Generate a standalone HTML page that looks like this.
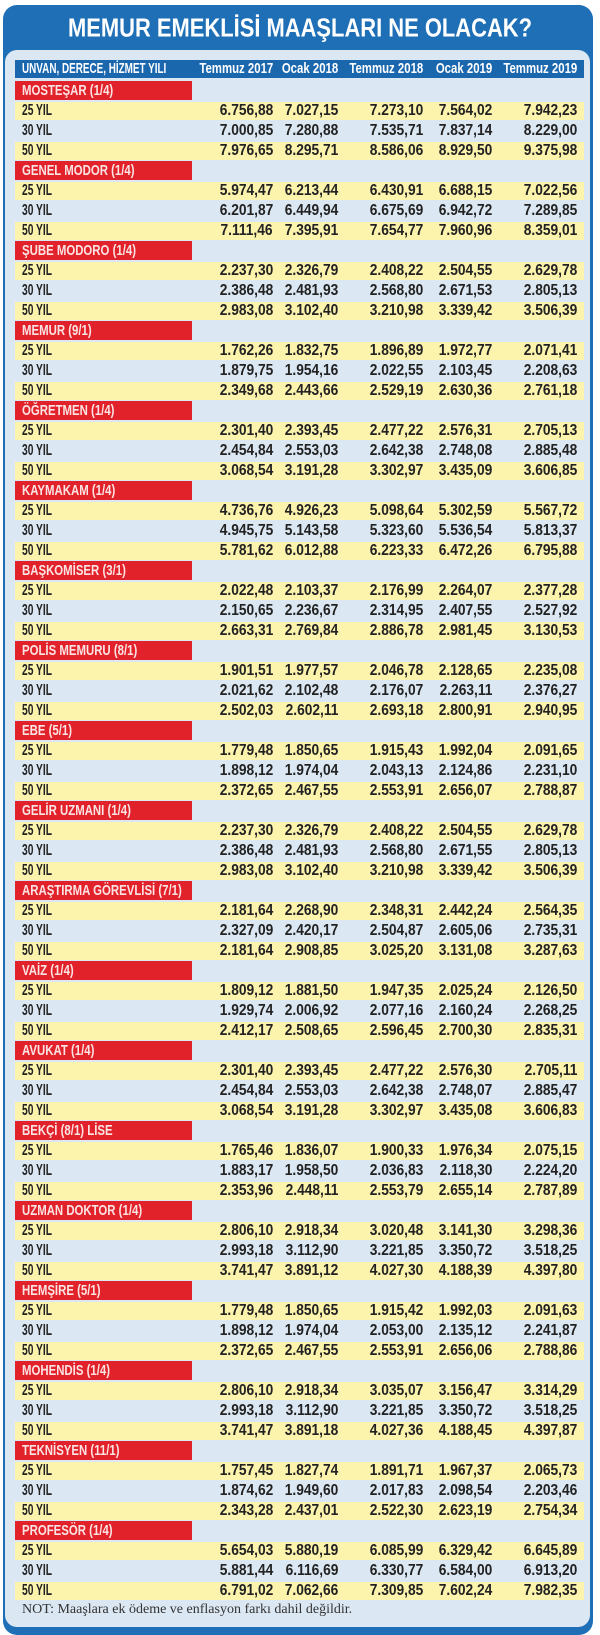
<!DOCTYPE html>
<html><head><meta charset="utf-8">
<style>
*{margin:0;padding:0;box-sizing:border-box}
body{width:600px;height:1631px;background:#fff;position:relative;overflow:hidden;font-family:"Liberation Sans",sans-serif}
#outer{position:absolute;left:3px;top:5px;width:590px;height:1630px;background:#1f6fb6;border-radius:14px}
#panel{position:absolute;left:5px;top:50px;width:585px;height:1577px;background:#dbe7f3;border-radius:12px}
#title{position:absolute;left:0;top:0}
#hdr{position:absolute;left:15px;top:60px;width:569px;height:18px;background:#1b67ae}
#rows{position:absolute;left:15px;top:81px;width:569px}
.r{position:relative;height:20px}
.y::before{content:"";position:absolute;left:0;top:1px;width:569px;height:18px;background:#fcf3ad}
.g{position:relative;height:20px}
.g::before{content:"";position:absolute;left:0;top:0;width:177px;height:19px;background:#e2222a}
.g b{position:absolute;left:7px;top:0;font-size:15px;color:#fbe3e3;transform:scaleX(.76);transform-origin:left;white-space:nowrap;line-height:19px}
.r b{position:absolute;left:7px;top:1px;font-size:16px;color:#222;transform:scaleX(.64);transform-origin:left;line-height:18px}
.r i,#hdr i{position:absolute;font-style:normal;font-weight:bold;font-size:16px;color:#222;line-height:18px;top:1px;transform:scaleX(.86);transform-origin:right;white-space:nowrap}
.r i:nth-of-type(1),#hdr i:nth-of-type(1){right:311px}
.r i:nth-of-type(2),#hdr i:nth-of-type(2){right:246px}
.r i:nth-of-type(3),#hdr i:nth-of-type(3){right:161px}
.r i:nth-of-type(4),#hdr i:nth-of-type(4){right:92px}
.r i:nth-of-type(5),#hdr i:nth-of-type(5){right:7px}
#hdr i{color:#fff;font-size:15px;top:0;transform:scaleX(.76)}
#hdr b{position:absolute;left:7px;top:0;line-height:18px;font-size:15px;color:#fff;transform:scaleX(.66);transform-origin:left;white-space:nowrap}
#not{position:absolute;left:22px;top:1602px;font-family:"Liberation Serif",serif;font-size:14px;color:#333}
</style></head><body>
<div id="outer"></div>
<svg id="title" width="600" height="50"><text x="68" y="36.5" textLength="464" lengthAdjust="spacingAndGlyphs" font-family="Liberation Sans, sans-serif" font-weight="bold" font-size="26" fill="#fff">MEMUR EMEKLİSİ MAAŞLARI NE OLACAK?</text></svg>
<div id="panel"></div>
<div id="hdr"><b>UNVAN, DERECE, HİZMET YILI</b><i>Temmuz 2017</i><i>Ocak 2018</i><i>Temmuz 2018</i><i>Ocak 2019</i><i>Temmuz 2019</i></div>
<div id="rows">
<div class="g"><b>MOSTEŞAR (1/4)</b></div>
<div class="r y"><b>25 YIL</b><i>6.756,88</i><i>7.027,15</i><i>7.273,10</i><i>7.564,02</i><i>7.942,23</i></div>
<div class="r"><b>30 YIL</b><i>7.000,85</i><i>7.280,88</i><i>7.535,71</i><i>7.837,14</i><i>8.229,00</i></div>
<div class="r y"><b>50 YIL</b><i>7.976,65</i><i>8.295,71</i><i>8.586,06</i><i>8.929,50</i><i>9.375,98</i></div>
<div class="g"><b>GENEL MODOR (1/4)</b></div>
<div class="r y"><b>25 YIL</b><i>5.974,47</i><i>6.213,44</i><i>6.430,91</i><i>6.688,15</i><i>7.022,56</i></div>
<div class="r"><b>30 YIL</b><i>6.201,87</i><i>6.449,94</i><i>6.675,69</i><i>6.942,72</i><i>7.289,85</i></div>
<div class="r y"><b>50 YIL</b><i>7.111,46</i><i>7.395,91</i><i>7.654,77</i><i>7.960,96</i><i>8.359,01</i></div>
<div class="g"><b>ŞUBE MODORO (1/4)</b></div>
<div class="r y"><b>25 YIL</b><i>2.237,30</i><i>2.326,79</i><i>2.408,22</i><i>2.504,55</i><i>2.629,78</i></div>
<div class="r"><b>30 YIL</b><i>2.386,48</i><i>2.481,93</i><i>2.568,80</i><i>2.671,53</i><i>2.805,13</i></div>
<div class="r y"><b>50 YIL</b><i>2.983,08</i><i>3.102,40</i><i>3.210,98</i><i>3.339,42</i><i>3.506,39</i></div>
<div class="g"><b>MEMUR (9/1)</b></div>
<div class="r y"><b>25 YIL</b><i>1.762,26</i><i>1.832,75</i><i>1.896,89</i><i>1.972,77</i><i>2.071,41</i></div>
<div class="r"><b>30 YIL</b><i>1.879,75</i><i>1.954,16</i><i>2.022,55</i><i>2.103,45</i><i>2.208,63</i></div>
<div class="r y"><b>50 YIL</b><i>2.349,68</i><i>2.443,66</i><i>2.529,19</i><i>2.630,36</i><i>2.761,18</i></div>
<div class="g"><b>ÖĞRETMEN (1/4)</b></div>
<div class="r y"><b>25 YIL</b><i>2.301,40</i><i>2.393,45</i><i>2.477,22</i><i>2.576,31</i><i>2.705,13</i></div>
<div class="r"><b>30 YIL</b><i>2.454,84</i><i>2.553,03</i><i>2.642,38</i><i>2.748,08</i><i>2.885,48</i></div>
<div class="r y"><b>50 YIL</b><i>3.068,54</i><i>3.191,28</i><i>3.302,97</i><i>3.435,09</i><i>3.606,85</i></div>
<div class="g"><b>KAYMAKAM (1/4)</b></div>
<div class="r y"><b>25 YIL</b><i>4.736,76</i><i>4.926,23</i><i>5.098,64</i><i>5.302,59</i><i>5.567,72</i></div>
<div class="r"><b>30 YIL</b><i>4.945,75</i><i>5.143,58</i><i>5.323,60</i><i>5.536,54</i><i>5.813,37</i></div>
<div class="r y"><b>50 YIL</b><i>5.781,62</i><i>6.012,88</i><i>6.223,33</i><i>6.472,26</i><i>6.795,88</i></div>
<div class="g"><b>BAŞKOMİSER (3/1)</b></div>
<div class="r y"><b>25 YIL</b><i>2.022,48</i><i>2.103,37</i><i>2.176,99</i><i>2.264,07</i><i>2.377,28</i></div>
<div class="r"><b>30 YIL</b><i>2.150,65</i><i>2.236,67</i><i>2.314,95</i><i>2.407,55</i><i>2.527,92</i></div>
<div class="r y"><b>50 YIL</b><i>2.663,31</i><i>2.769,84</i><i>2.886,78</i><i>2.981,45</i><i>3.130,53</i></div>
<div class="g"><b>POLİS MEMURU (8/1)</b></div>
<div class="r y"><b>25 YIL</b><i>1.901,51</i><i>1.977,57</i><i>2.046,78</i><i>2.128,65</i><i>2.235,08</i></div>
<div class="r"><b>30 YIL</b><i>2.021,62</i><i>2.102,48</i><i>2.176,07</i><i>2.263,11</i><i>2.376,27</i></div>
<div class="r y"><b>50 YIL</b><i>2.502,03</i><i>2.602,11</i><i>2.693,18</i><i>2.800,91</i><i>2.940,95</i></div>
<div class="g"><b>EBE (5/1)</b></div>
<div class="r y"><b>25 YIL</b><i>1.779,48</i><i>1.850,65</i><i>1.915,43</i><i>1.992,04</i><i>2.091,65</i></div>
<div class="r"><b>30 YIL</b><i>1.898,12</i><i>1.974,04</i><i>2.043,13</i><i>2.124,86</i><i>2.231,10</i></div>
<div class="r y"><b>50 YIL</b><i>2.372,65</i><i>2.467,55</i><i>2.553,91</i><i>2.656,07</i><i>2.788,87</i></div>
<div class="g"><b>GELİR UZMANI (1/4)</b></div>
<div class="r y"><b>25 YIL</b><i>2.237,30</i><i>2.326,79</i><i>2.408,22</i><i>2.504,55</i><i>2.629,78</i></div>
<div class="r"><b>30 YIL</b><i>2.386,48</i><i>2.481,93</i><i>2.568,80</i><i>2.671,55</i><i>2.805,13</i></div>
<div class="r y"><b>50 YIL</b><i>2.983,08</i><i>3.102,40</i><i>3.210,98</i><i>3.339,42</i><i>3.506,39</i></div>
<div class="g"><b>ARAŞTIRMA GÖREVLİSİ (7/1)</b></div>
<div class="r y"><b>25 YIL</b><i>2.181,64</i><i>2.268,90</i><i>2.348,31</i><i>2.442,24</i><i>2.564,35</i></div>
<div class="r"><b>30 YIL</b><i>2.327,09</i><i>2.420,17</i><i>2.504,87</i><i>2.605,06</i><i>2.735,31</i></div>
<div class="r y"><b>50 YIL</b><i>2.181,64</i><i>2.908,85</i><i>3.025,20</i><i>3.131,08</i><i>3.287,63</i></div>
<div class="g"><b>VAİZ (1/4)</b></div>
<div class="r y"><b>25 YIL</b><i>1.809,12</i><i>1.881,50</i><i>1.947,35</i><i>2.025,24</i><i>2.126,50</i></div>
<div class="r"><b>30 YIL</b><i>1.929,74</i><i>2.006,92</i><i>2.077,16</i><i>2.160,24</i><i>2.268,25</i></div>
<div class="r y"><b>50 YIL</b><i>2.412,17</i><i>2.508,65</i><i>2.596,45</i><i>2.700,30</i><i>2.835,31</i></div>
<div class="g"><b>AVUKAT (1/4)</b></div>
<div class="r y"><b>25 YIL</b><i>2.301,40</i><i>2.393,45</i><i>2.477,22</i><i>2.576,30</i><i>2.705,11</i></div>
<div class="r"><b>30 YIL</b><i>2.454,84</i><i>2.553,03</i><i>2.642,38</i><i>2.748,07</i><i>2.885,47</i></div>
<div class="r y"><b>50 YIL</b><i>3.068,54</i><i>3.191,28</i><i>3.302,97</i><i>3.435,08</i><i>3.606,83</i></div>
<div class="g"><b>BEKÇİ (8/1) LİSE</b></div>
<div class="r y"><b>25 YIL</b><i>1.765,46</i><i>1.836,07</i><i>1.900,33</i><i>1.976,34</i><i>2.075,15</i></div>
<div class="r"><b>30 YIL</b><i>1.883,17</i><i>1.958,50</i><i>2.036,83</i><i>2.118,30</i><i>2.224,20</i></div>
<div class="r y"><b>50 YIL</b><i>2.353,96</i><i>2.448,11</i><i>2.553,79</i><i>2.655,14</i><i>2.787,89</i></div>
<div class="g"><b>UZMAN DOKTOR (1/4)</b></div>
<div class="r y"><b>25 YIL</b><i>2.806,10</i><i>2.918,34</i><i>3.020,48</i><i>3.141,30</i><i>3.298,36</i></div>
<div class="r"><b>30 YIL</b><i>2.993,18</i><i>3.112,90</i><i>3.221,85</i><i>3.350,72</i><i>3.518,25</i></div>
<div class="r y"><b>50 YIL</b><i>3.741,47</i><i>3.891,12</i><i>4.027,30</i><i>4.188,39</i><i>4.397,80</i></div>
<div class="g"><b>HEMŞİRE (5/1)</b></div>
<div class="r y"><b>25 YIL</b><i>1.779,48</i><i>1.850,65</i><i>1.915,42</i><i>1.992,03</i><i>2.091,63</i></div>
<div class="r"><b>30 YIL</b><i>1.898,12</i><i>1.974,04</i><i>2.053,00</i><i>2.135,12</i><i>2.241,87</i></div>
<div class="r y"><b>50 YIL</b><i>2.372,65</i><i>2.467,55</i><i>2.553,91</i><i>2.656,06</i><i>2.788,86</i></div>
<div class="g"><b>MOHENDİS (1/4)</b></div>
<div class="r y"><b>25 YIL</b><i>2.806,10</i><i>2.918,34</i><i>3.035,07</i><i>3.156,47</i><i>3.314,29</i></div>
<div class="r"><b>30 YIL</b><i>2.993,18</i><i>3.112,90</i><i>3.221,85</i><i>3.350,72</i><i>3.518,25</i></div>
<div class="r y"><b>50 YIL</b><i>3.741,47</i><i>3.891,18</i><i>4.027,36</i><i>4.188,45</i><i>4.397,87</i></div>
<div class="g"><b>TEKNİSYEN (11/1)</b></div>
<div class="r y"><b>25 YIL</b><i>1.757,45</i><i>1.827,74</i><i>1.891,71</i><i>1.967,37</i><i>2.065,73</i></div>
<div class="r"><b>30 YIL</b><i>1.874,62</i><i>1.949,60</i><i>2.017,83</i><i>2.098,54</i><i>2.203,46</i></div>
<div class="r y"><b>50 YIL</b><i>2.343,28</i><i>2.437,01</i><i>2.522,30</i><i>2.623,19</i><i>2.754,34</i></div>
<div class="g"><b>PROFESÖR (1/4)</b></div>
<div class="r y"><b>25 YIL</b><i>5.654,03</i><i>5.880,19</i><i>6.085,99</i><i>6.329,42</i><i>6.645,89</i></div>
<div class="r"><b>30 YIL</b><i>5.881,44</i><i>6.116,69</i><i>6.330,77</i><i>6.584,00</i><i>6.913,20</i></div>
<div class="r y"><b>50 YIL</b><i>6.791,02</i><i>7.062,66</i><i>7.309,85</i><i>7.602,24</i><i>7.982,35</i></div>
</div>
<div id="not">NOT: Maaşlara ek ödeme ve enflasyon farkı dahil değildir.</div>
</body></html>
